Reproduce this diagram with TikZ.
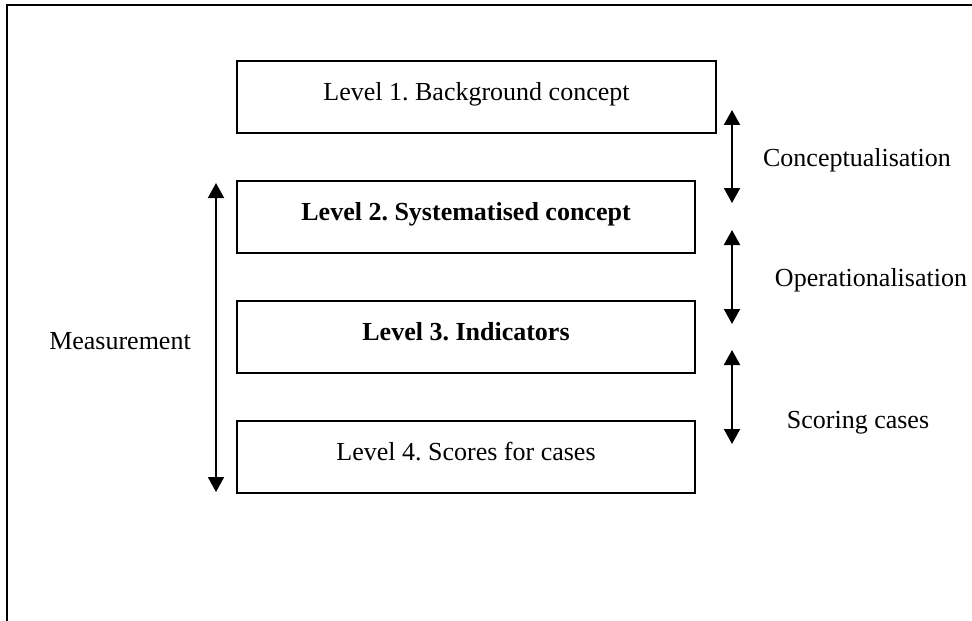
\documentclass[tikz,border=0pt]{standalone}
\usepackage{fontspec}
\setmainfont{Liberation Serif}
\usetikzlibrary{arrows.meta}
\frenchspacing
\tikzset{
  level/.style={
    draw,line width=0.6pt,minimum width=229pt,minimum height=36pt,
    text height=8pt,text depth=4.4pt,font=\fontsize{13}{15}\selectfont
  },
  tag/.style={font=\fontsize{13}{15}\selectfont},
  twoway/.style={
    {Triangle[length=7.5pt,width=8pt]}-{Triangle[length=7.5pt,width=8pt]},
    line width=1pt
  }
}
\begin{document}
\begin{tikzpicture}[x=0.5pt,y=-0.5pt]
  \useasboundingbox (0,0) rectangle (972,620);
  \clip (0,0) rectangle (972,620);
  % frame, cut off at right and bottom
  \draw[line width=1.2pt] (7,700) |- (1000,5);

  % the four levels
  \node[level,minimum width=239.5pt] (b1) at (476.5,97) {Level 1. Background concept};
  \node[level] (b2) at (466,217) {\bfseries Level 2. Systematised concept};
  \node[level] (b3) at (466,337) {\bfseries Level 3. Indicators};
  \node[level] (b4) at (466,457) {Level 4. Scores for cases};

  % labels
  \node[tag] (conc) at (857,160) {Conceptualisation};
  \node[tag] (oper) at (871,280) {Operationalisation};
  \node[tag] (score) at (858,423) {Scoring cases};
  \node[tag] (meas) at (120,341) {Measurement};

  % arrow ends
  \coordinate (c1) at (732,110);
  \coordinate (c2) at (732,203);
  \coordinate (o1) at (732,230);
  \coordinate (o2) at (732,324);
  \coordinate (s1) at (732,350);
  \coordinate (s2) at (732,444);
  \coordinate (m1) at (216,183);
  \coordinate (m2) at (216,492);

  \draw[twoway] (c1) -- (c2);
  \draw[twoway] (o1) -- (o2);
  \draw[twoway] (s1) -- (s2);
  \draw[twoway] (m1) -- (m2);
\end{tikzpicture}
\end{document}
